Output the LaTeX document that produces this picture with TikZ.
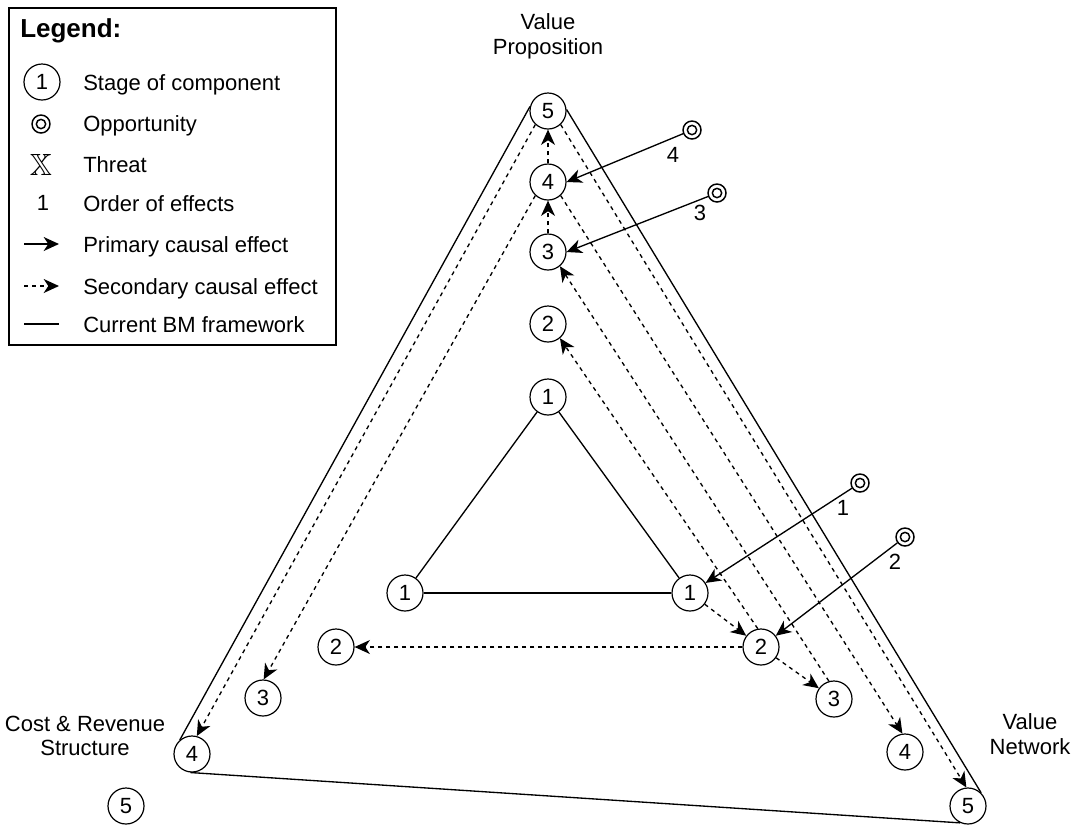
\documentclass[tikz,border=0pt]{standalone}
\usepackage{fontspec}
\setmainfont{Liberation Sans}
\usepackage{amssymb}
\usetikzlibrary{arrows.meta}
\begin{document}
\begin{tikzpicture}[x=0.75pt,y=-0.75pt,
  txt/.style={inner sep=0pt,font=\fontsize{16.5}{18.5}\selectfont},
  stage/.style={circle,draw,line width=0.9pt,fill=white,minimum size=27pt,inner sep=0pt,
    font=\fontsize{16.5}{18.5}\selectfont},
  opp/.style={circle,draw,line width=1.1pt,minimum size=13.5pt,inner sep=0pt,
    path picture={\draw[line width=1.1pt] (path picture bounding box.center) circle[radius=3.5pt];}},
  frame/.style={line width=1pt},
  primary/.style={line width=1pt,-{Stealth[length=11.5pt,width=10.5pt,inset=3.5pt]}},
  secondary/.style={line width=1pt,dash pattern=on 3pt off 3pt,-{Stealth[length=11.5pt,width=10.5pt,inset=3.5pt]}}]
\useasboundingbox (0,0) rectangle (1073,826);

% ---------- legend ----------
\draw[line width=0.9pt] (9,8) rectangle (336,345);
\node[txt,anchor=base west,font=\bfseries\fontsize{19.5}{22}\selectfont] (legtitle) at (20,37) {Legend:};
\node[stage] (lgstage) at (42,82) {1};
\node[opp] (lgopp) at (41,124) {};
\node[inner sep=0pt,font=\fontsize{23}{25}\selectfont] (lgthreat) at (41,165) {$\mathbb{X}$};
\node[txt] (lgorder) at (43,203) {1};
\coordinate (lgpa) at (24,244); \coordinate (lgpb) at (59,244);
\coordinate (lgsa) at (24,286); \coordinate (lgsb) at (59,286);
\coordinate (lgfa) at (24,324); \coordinate (lgfb) at (59,324);
\draw[primary] (lgpa) -- (lgpb);
\draw[secondary] (lgsa) -- (lgsb);
\draw[frame] (lgfa) -- (lgfb);
\node[txt,anchor=base west] (lgt1) at (83,90)  {Stage of component};
\node[txt,anchor=base west] (lgt2) at (83,131) {Opportunity};
\node[txt,anchor=base west] (lgt3) at (83,172) {Threat};
\node[txt,anchor=base west] (lgt4) at (83,211) {Order of effects};
\node[txt,anchor=base west] (lgt5) at (83,252) {Primary causal effect};
\node[txt,anchor=base west] (lgt6) at (83,294) {Secondary causal effect};
\node[txt,anchor=base west] (lgt7) at (83,332) {Current BM framework};

% ---------- component labels ----------
\node[txt,align=center] (vplabel) at (548,36) {Value\\Proposition};
\node[txt,align=center] (crlabel) at (85,736) {Cost \& Revenue\\Structure};
\node[txt,align=center] (vnlabel) at (1030,734) {Value\\Network};

% ---------- stages ----------
\node[stage] (v5) at (548,111) {5};
\node[stage] (v4) at (548,182) {4};
\node[stage] (v3) at (548,252) {3};
\node[stage] (v2) at (548,324) {2};
\node[stage] (t1) at (548,397) {1};
\node[stage] (l1) at (405,593) {1};
\node[stage] (r1) at (690,593) {1};
\node[stage] (r2) at (761,647) {2};
\node[stage] (l2) at (336,647) {2};
\node[stage] (l3) at (263,698) {3};
\node[stage] (r3) at (834,699) {3};
\node[stage] (r4) at (905,752) {4};
\node[stage] (l4) at (192,754) {4};
\node[stage] (l5) at (126,806) {5};
\node[stage] (r5) at (968,806) {5};

% ---------- opportunities ----------
\node[opp] (o4) at (692,130) {};
\node[opp] (o3) at (717,193) {};
\node[opp] (o1) at (860,483) {};
\node[opp] (o2) at (905,537) {};
\node[txt] (n4) at (673,155) {4};
\node[txt] (n3) at (700,213) {3};
\node[txt] (n1) at (843,508) {1};
\node[txt] (n2) at (895,562) {2};

% ---------- current framework ----------
\draw[frame] (v5.166) -- (l4.131);
\draw[frame] (l4.265) -- (r5.245);
\draw[frame] (v5.5) -- (r5.45);
\draw[frame] (t1) -- (l1);
\draw[frame] (t1) -- (r1);
\draw[frame] (l1) -- (r1);

% ---------- secondary effects ----------
\draw[secondary] (v3) -- (v4);
\draw[secondary] (v4) -- (v5);
\draw[secondary] (v5.227) -- (l4.75);
\draw[secondary] (v4.227) -- (l3.88);
\draw[secondary] (v5.313) -- (r5.95);
\draw[secondary] (v4.313) -- (r4.98);
\draw[secondary] (r3.106) -- (v3.310);
\draw[secondary] (r2.100) -- (v2.310);
\draw[secondary] (r1) -- (r2);
\draw[secondary] (r2) -- (r3);
\draw[secondary] (r2) -- (l2);

% ---------- primary effects ----------
\draw[primary] (o4) -- (v4.east);
\draw[primary] (o3) -- (v3.east);
\draw[primary] (o1) -- (r1);
\draw[primary] (o2) -- (r2);
\end{tikzpicture}
\end{document}
